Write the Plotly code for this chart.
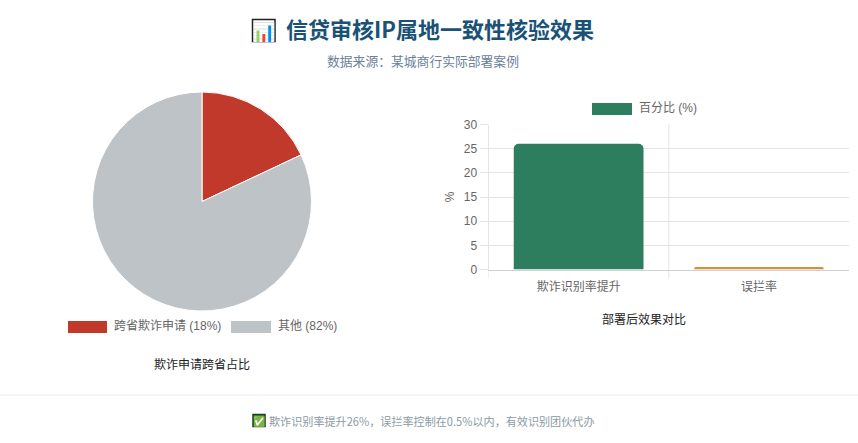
import plotly.graph_objects as go

W, H = 858, 443
FONT = "Liberation Sans, Noto Sans CJK SC, sans-serif"
CJK = "Noto Sans CJK SC, sans-serif"

title_icon = "📊"
title_text = "信贷审核IP属地一致性核验效果"
subtitle_text = "数据来源：某城商行实际部署案例"
footer_icon = "✅"
footer_text = "欺诈识别率提升26%，误拦率控制在0.5%以内，有效识别团伙代办"

pie_labels = ["跨省欺诈申请 (18%)", "其他 (82%)"]
pie_values = [18, 82]
pie_colors = ["#c0392b", "#bdc3c7"]
pie_title = "欺诈申请跨省占比"

bar_categories = ["欺诈识别率提升", "误拦率"]
bar_values = [26, 0.5]
bar_colors = ["#2d7d5f", "#d4903f"]
bar_series = "百分比 (%)"
bar_title = "部署后效果对比"
y_ticks = [0, 5, 10, 15, 20, 25, 30]
y_label = "%"

GRID = "#e4e4e4"
TICK = "#666666"


def px(x):
    return x / W


def py(y):
    return 1 - y / H


fig = go.Figure()
fig.add_trace(go.Pie(
    labels=pie_labels, values=pie_values, sort=False, direction="clockwise", rotation=0,
    marker=dict(colors=pie_colors, line=dict(color="#ffffff", width=1)),
    textinfo="none", hoverinfo="label+percent", showlegend=False,
    domain=dict(x=[px(92.5), px(311.5)], y=[py(311), py(92)]),
))
fig.add_trace(go.Bar(
    x=bar_categories, y=bar_values, marker=dict(color=bar_colors, line=dict(width=0)),
    width=0.72, showlegend=False, xaxis="x", yaxis="y",
))

shapes = [
    dict(type="line", xref="x", yref="y domain", x0=-0.5, x1=-0.5, y0=-0.06, y1=1,
         line=dict(color=GRID, width=1), layer="below"),
    dict(type="line", xref="x", yref="y domain", x0=0.5, x1=0.5, y0=-0.06, y1=1,
         line=dict(color=GRID, width=1), layer="below"),
    dict(type="line", xref="paper", yref="paper", x0=0, x1=1, y0=py(395), y1=py(395),
         line=dict(color="#ececec", width=1)),
]


def swatch(x0, x1, y0, y1, color, border=None):
    shapes.append(dict(type="rect", xref="paper", yref="paper",
                       x0=px(x0), x1=px(x1), y0=py(y1), y1=py(y0),
                       fillcolor=color,
                       line=dict(width=1.5, color=border) if border else dict(width=0)))


swatch(68, 107, 321, 333, pie_colors[0])
swatch(231, 271, 321, 333, pie_colors[1])
swatch(592, 632, 103, 115, bar_colors[0])
swatch(252.5, 275, 19.5, 41.5, "#ffffff", "#222222")
swatch(253, 265, 414.5, 426.5, "#2e9e3a", "#1c3d1c")


def text(x, y, s, size, color, family=FONT, anchor="center", bold=False):
    fig.add_annotation(xref="paper", yref="paper", x=px(x), y=py(y), text=f"<b>{s}</b>" if bold else s,
                       showarrow=False, xanchor=anchor, yanchor="middle",
                       font=dict(size=size, color=color, family=family))


text(263.7, 30.5, title_icon, 19, "#1a5276", CJK)
text(440.5, 28, title_text, 22, "#1a5276", CJK, bold=True)
text(423, 61, subtitle_text, 12.8, "#6b8299", CJK)
text(112, 326, pie_labels[0], 12, TICK, anchor="left")
text(275.5, 326, pie_labels[1], 12, TICK, anchor="left")
text(202, 363, pie_title, 12, "#222222", CJK)
text(636.5, 107.5, bar_series, 12, TICK, anchor="left")
text(644, 318, bar_title, 12, "#222222", CJK)
text(259, 420.5, footer_icon, 10, "#8a9aa5", CJK)
text(432, 420.5, footer_text, 11.1, "#8a9aa5", CJK)

fig.update_layout(
    width=W, height=H, autosize=False, margin=dict(l=0, r=0, t=0, b=0, autoexpand=False),
    paper_bgcolor="#ffffff", plot_bgcolor="#ffffff", font=dict(family=FONT, color=TICK, size=12),
    shapes=shapes, barcornerradius=5, bargap=0.28,
    xaxis=dict(domain=[px(488.5), px(849)], type="category", range=[-0.5, 1.5], showgrid=False,
               showline=True, linecolor="#d0d0d0", ticks="", zeroline=False, fixedrange=True,
               automargin=False,
               tickfont=dict(size=12, color=TICK, family=FONT), ticklabelstandoff=6,
               anchor="y"),
    yaxis=dict(domain=[py(269.5), py(124.5)], range=[0, 30], tickvals=y_ticks, showgrid=True,
               gridcolor=GRID, gridwidth=1, showline=True, linecolor=GRID, ticks="outside",
               ticklen=8, tickcolor=GRID, zeroline=False, fixedrange=True, automargin=False,
               tickfont=dict(size=12, color=TICK, family=FONT),
               title=dict(text=y_label, font=dict(size=12, color=TICK), standoff=6), anchor="x"),
)

fig.write_html("out.html", config=dict(displayModeBar=False),
               post_script="document.body.style.margin='0';document.body.style.overflow='hidden';")
